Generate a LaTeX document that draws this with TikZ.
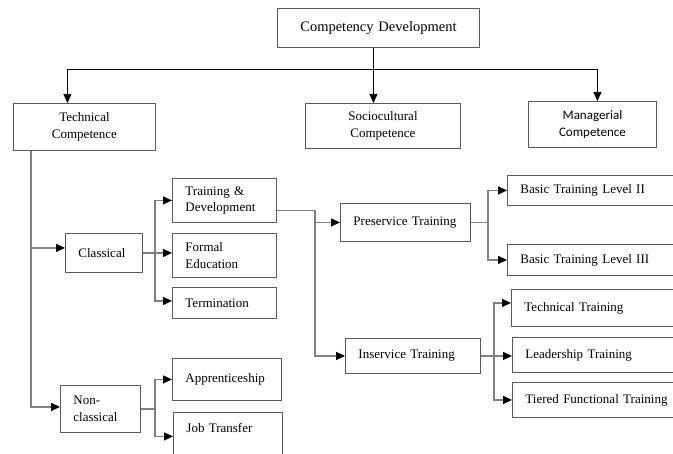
\documentclass[tikz,border=0pt]{standalone}
\usepackage{fontspec}
\setmainfont{Liberation Serif}
\newfontfamily\carlito{Carlito}
\usetikzlibrary{arrows.meta}

\tikzset{
    box/.style={draw=black!65, line width=0.9pt, rectangle, anchor=north west, inner ysep=0pt, inner xsep=13pt, font=\fontsize{13}{16.5}\selectfont},
    cbox/.style={box, align=center},
    lbox/.style={box, align=left},
    top/.style={draw=black, line width=0.7pt},
    link/.style={draw=black!50, line width=1.2pt},
}

\begin{document}
\begin{tikzpicture}[x=1pt, y=-1pt, >={Triangle[length=9pt,width=8pt,color=black,fill=black]}]
        \clip (0,0) rectangle (673,454);

        \node[cbox, text width=176pt, minimum height=39pt, font=\fontsize{14.5}{17}\selectfont] (cd) at (277,8) {Competency Development};
        \node[cbox, text width=116pt, minimum height=47pt] (tc) at (13,103) {Technical\\Competence};
        \node[cbox, text width=129pt, minimum height=45pt] (sc) at (305,103) {Sociocultural\\Competence};
        \node[cbox, text width=102pt, minimum height=46pt, font=\carlito\fontsize{13}{16.5}\selectfont] (mc) at (528,101) {Managerial\\Competence};

        \node[lbox, text width=51pt, minimum height=39pt] (clas) at (65,233) {Classical};
        \node[lbox, text width=54pt, minimum height=47pt] (ncl) at (60,385) {Non-\\classical};

        \node[lbox, text width=78pt, minimum height=44pt] (td) at (172,178) {Training \&\\Development};
        \node[lbox, text width=78pt, minimum height=44pt] (fe) at (172,233) {Formal\\Education};
        \node[lbox, text width=78pt, minimum height=31pt] (term) at (172,287) {Termination};
        \node[lbox, text width=83pt, minimum height=42pt] (app) at (172,358) {Apprenticeship};
        \node[lbox, text width=83pt, minimum height=48pt, text depth=18pt] (jt) at (173,412) {Job Transfer};

        \node[lbox, text width=104pt, minimum height=38pt] (pre) at (340,203) {Preservice Training};
        \node[lbox, text width=109pt, minimum height=35pt] (ins) at (345,338) {Inservice Training};

        \node[lbox, text width=157pt, minimum height=30pt] (b2) at (507,175) {Basic Training Level II};
        \node[lbox, text width=157pt, minimum height=31pt] (b3) at (507,244) {Basic Training Level III};
        \node[lbox, text width=153pt, minimum height=37pt] (tt) at (511,289) {Technical Training};
        \node[lbox, text width=152pt, minimum height=35pt] (lt) at (512,337) {Leadership Training};
        \node[lbox, text width=152pt, minimum height=35pt] (tf) at (512,382) {Tiered Functional Training};

        \coordinate (split) at ([xshift=-5pt]cd.south |- 0,69);
        \draw[top] ([xshift=-5pt]cd.south) -- (split);
        \draw[top, ->] (split) -- (split |- sc.north);
        \draw[top, ->] (split) -| ([xshift=-17pt]tc.north);
        \draw[top, ->] (split) -| ([xshift=5pt]mc.north);

        \draw[link, ->] ([xshift=18pt]tc.south west) |- ([yshift=5pt]clas.west);
        \draw[link, ->] ([xshift=18pt]tc.south west) |- ([yshift=2pt]ncl.west);

        \draw[link, ->] (clas.east) -- (clas.east -| fe.west);
        \draw[link, ->] ([xshift=12pt]clas.east) |- (td.west);
        \draw[link, ->] ([xshift=12pt]clas.east) |- ([yshift=2pt]term.west);

        \draw[link] (ncl.east) -- ++(14,0);
        \draw[link, ->] ([xshift=14pt]ncl.east) |- (app.west);
        \draw[link, ->] ([xshift=14pt]ncl.east) |- (jt.west);

        \draw[link] ([yshift=-10pt]td.east) -- ++(38,0) coordinate (tdj);
        \draw[link, ->] (tdj) |- (pre.west);
        \draw[link, ->] (tdj) |- (ins.west);

        \draw[link] (pre.east) -- ++(17,0) coordinate (prej);
        \draw[link, ->] (prej) |- (b2.west);
        \draw[link, ->] (prej) |- (b3.west);

        \draw[link, ->] (ins.east) -- (ins.east -| lt.west);
        \draw[link, ->] ([xshift=13pt]ins.east) |- ([yshift=5pt]tt.west);
        \draw[link, ->] ([xshift=13pt]ins.east) |- (tf.west);

    \end{tikzpicture}
\end{document}
